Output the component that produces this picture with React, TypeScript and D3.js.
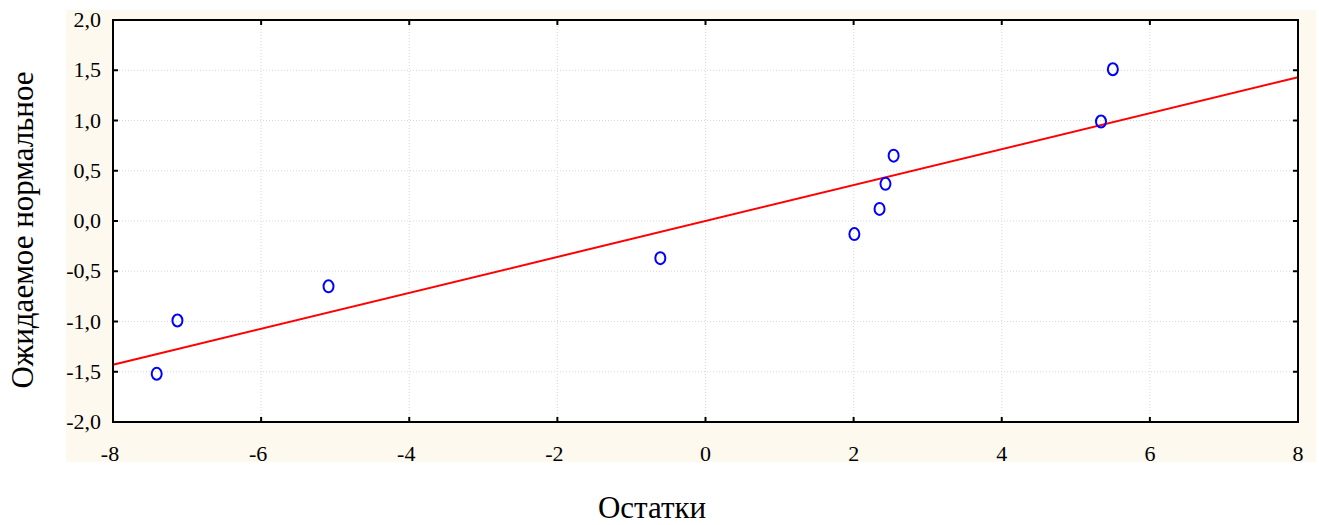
import { useEffect, useRef } from 'react';
import * as d3 from 'd3';

// residuals (x) and expected normal values (y)
const residuals = [-7.41, -7.13, -5.09, -0.61, 2.01, 2.35, 2.43, 2.54, 5.34, 5.5];
const expectedNormal = [-1.52, -0.99, -0.65, -0.37, -0.13, 0.12, 0.37, 0.65, 0.99, 1.51];
const fitLine = [[-8, -1.43], [8, 1.43]];
const xTicks = [-8, -6, -4, -2, 0, 2, 4, 6, 8];
const yTicks = [-2, -1.5, -1, -0.5, 0, 0.5, 1, 1.5, 2];

const W = 1319, H = 525;
const margin = { top: 20, right: 21, bottom: 103, left: 113 };

export default function App() {
  const ref = useRef<SVGSVGElement>(null);

  useEffect(() => {
    const svg = d3.select(ref.current);
    svg.selectAll('*').remove();

    const x = d3.scaleLinear().domain([-8, 8]).range([margin.left, W - margin.right]);
    const y = d3.scaleLinear().domain([-2, 2]).range([H - margin.bottom, margin.top]);
    const fmt = (d: number) => d3.format('.1f')(d).replace('.', ',').replace('−', '-');

    // cream panel
    svg.append('rect')
      .attr('x', 66).attr('y', 10)
      .attr('width', 1250).attr('height', 452)
      .attr('fill', '#fdf9ee');

    svg.append('rect')
      .attr('x', x(-8)).attr('y', y(2))
      .attr('width', x(8) - x(-8)).attr('height', y(-2) - y(2))
      .attr('fill', '#fff');

    // grid
    const grid = svg.append('g')
      .attr('stroke', '#d8d8d8').attr('stroke-width', 1).attr('stroke-dasharray', '1,2');
    grid.selectAll('.gx').data(xTicks.slice(1, -1)).enter().append('line')
      .attr('x1', d => x(d)).attr('x2', d => x(d))
      .attr('y1', y(2)).attr('y2', y(-2));
    grid.selectAll('.gy').data(yTicks.slice(1, -1)).enter().append('line')
      .attr('y1', d => y(d)).attr('y2', d => y(d))
      .attr('x1', x(-8)).attr('x2', x(8));

    // inner ticks on all sides
    const ticks = svg.append('g').attr('stroke', '#000').attr('stroke-width', 2);
    ticks.selectAll('.tb').data(xTicks).enter().append('line')
      .attr('x1', d => x(d)).attr('x2', d => x(d))
      .attr('y1', y(-2)).attr('y2', y(-2) - 5);
    ticks.selectAll('.tt').data(xTicks).enter().append('line')
      .attr('x1', d => x(d)).attr('x2', d => x(d))
      .attr('y1', y(2)).attr('y2', y(2) + 5);
    ticks.selectAll('.tl').data(yTicks).enter().append('line')
      .attr('y1', d => y(d)).attr('y2', d => y(d))
      .attr('x1', x(-8)).attr('x2', x(-8) + 5);
    ticks.selectAll('.tr').data(yTicks).enter().append('line')
      .attr('y1', d => y(d)).attr('y2', d => y(d))
      .attr('x1', x(8)).attr('x2', x(8) - 5);

    // fitted line
    svg.append('path')
      .datum(fitLine)
      .attr('d', d3.line<number[]>().x(d => x(d[0])).y(d => y(d[1])))
      .attr('stroke', '#ff0000').attr('stroke-width', 2).attr('fill', 'none');

    // points
    svg.append('g').selectAll('ellipse')
      .data(residuals.map((r, i) => [r, expectedNormal[i]]))
      .enter().append('ellipse')
      .attr('cx', d => x(d[0])).attr('cy', d => y(d[1]))
      .attr('rx', 5).attr('ry', 6)
      .attr('fill', 'none').attr('stroke', '#0000ff').attr('stroke-width', 2);

    // frame
    svg.append('rect')
      .attr('x', x(-8)).attr('y', y(2))
      .attr('width', x(8) - x(-8)).attr('height', y(-2) - y(2))
      .attr('fill', 'none').attr('stroke', '#000').attr('stroke-width', 2);

    const font = 'Liberation Serif, Times New Roman, serif';

    svg.append('g').selectAll('text').data(yTicks).enter().append('text')
      .attr('x', 101).attr('y', d => y(d) + 7)
      .attr('text-anchor', 'end')
      .style('font-family', font).attr('font-size', 22)
      .text(d => fmt(d));

    svg.append('g').selectAll('text').data(xTicks).enter().append('text')
      .attr('x', d => x(d) - (d < 0 ? 3 : 0)).attr('y', 461)
      .attr('text-anchor', 'middle')
      .style('font-family', font).attr('font-size', 22)
      .text(d => String(d));

    svg.append('text')
      .attr('x', 652).attr('y', 518)
      .attr('text-anchor', 'middle')
      .style('font-family', font).attr('font-size', 31)
      .text('Остатки');

    svg.append('text')
      .attr('transform', 'translate(33,230) rotate(-90)')
      .attr('text-anchor', 'middle')
      .style('font-family', font).attr('font-size', 31)
      .text('Ожидаемое нормальное');
  }, []);

  return (
    <svg ref={ref} width={W} height={H}
      style={{ position: 'absolute', left: 0, top: 0, display: 'block' }} />
  );
}
